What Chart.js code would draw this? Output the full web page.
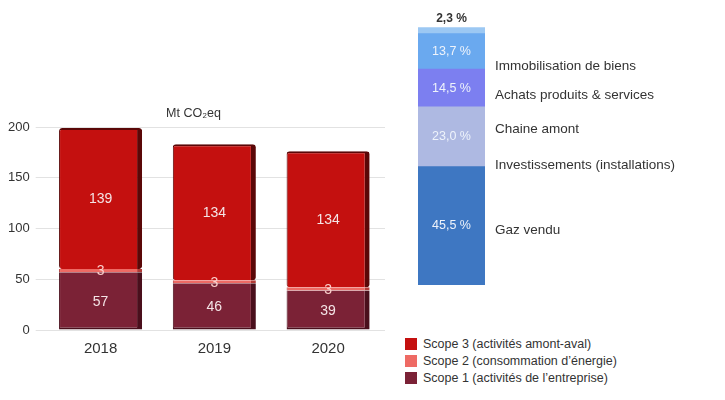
<!DOCTYPE html>
<html lang="fr">
<head>
<meta charset="utf-8">
<script src="https://cdn.jsdelivr.net/npm/chart.js@4"></script>
<style>
  html, body { margin: 0; padding: 0; background: #fff; }
  body { width: 725px; height: 400px; position: relative; overflow: hidden; font-family: "Liberation Sans", Arial, sans-serif; }
  #scope-wrap { position: absolute; left: 0; top: 98px; width: 400px; height: 264px; }
  #split-wrap { position: absolute; left: 400px; top: 0; width: 325px; height: 310px; }
  #legend { position: absolute; left: 405px; top: 335px; font-size: 12.5px; color: #333; }
  #legend div { display: flex; align-items: center; height: 17px; }
  #legend span.box { width: 12px; height: 12px; margin-right: 6px; display: inline-block; }
</style>
</head>
<body>
<div id="scope-wrap"><canvas id="scope-chart"></canvas></div>
<div id="split-wrap"><canvas id="split-chart"></canvas></div>
<div id="legend"></div>
<script>
// Emissions par scope (Mt CO2eq)
const years = ['2018', '2019', '2020'];
const scope1 = [57, 46, 39];
const scope2 = [3, 3, 3];
const scope3 = [139, 134, 134];
const yTicks = [0, 50, 100, 150, 200];

// Répartition du scope 3 (%), du bas vers le haut
const splitNames = ['Gaz vendu', 'Investissements (installations)', 'Chaine amont', 'Achats produits & services', 'Immobilisation de biens'];
const splitValues = [45.5, 23.0, 14.5, 13.7, 2.3];

const scopeColors = { s3: '#c4100f', s2: '#ee6a64', s1: '#7b2236' };
const splitColors = ['#3e77c2', '#aeb9e2', '#7c7ff0', '#6aa9ef', '#9cc8f3'];

const fontFamily = '"Liberation Sans", Arial, sans-serif';

/**
 * Écrit la valeur au centre de chaque segment de barre.
 */
const barValuesPlugin = {
    id: 'barValues',
    afterDatasetsDraw(chart) {
        const ctx = chart.ctx;
        ctx.save();
        ctx.textAlign = 'center';
        ctx.textBaseline = 'middle';
        ctx.font = '14px ' + fontFamily;
        chart.data.datasets.forEach((ds, i) => {
            const meta = chart.getDatasetMeta(i);
            meta.data.forEach((bar, j) => {
                const y = (bar.y + bar.base) / 2;
                ctx.fillStyle = ds.label.startsWith('Scope 2') ? '#fbd0cc' : '#f4e4e6';
                ctx.fillText(String(ds.data[j]), bar.x, y + 1);
            });
        });
        ctx.restore();
    }
};

function fmtPct(v) {
    return v.toFixed(1).replace('.', ',') + ' %';
}

/**
 * Pourcentages dans la colonne et noms des postes à droite.
 */
const splitLabelsPlugin = {
    id: 'splitLabels',
    afterDatasetsDraw(chart, args, opts) {
        const ctx = chart.ctx;
        const yScale = chart.scales.y;
        ctx.save();
        ctx.textBaseline = 'middle';
        chart.data.datasets.forEach((ds, i) => {
            const bar = chart.getDatasetMeta(i).data[0];
            const h = Math.abs(bar.base - bar.y);
            ctx.font = '12.5px ' + fontFamily;
            ctx.textAlign = 'center';
            if (h < 14) {
                ctx.fillStyle = '#333';
                ctx.font = 'bold 12px ' + fontFamily;
                ctx.fillText(fmtPct(ds.data[0]), bar.x, bar.y - 9);
            } else {
                ctx.fillStyle = '#eef3fb';
                ctx.fillText(fmtPct(ds.data[0]), bar.x, (bar.y + bar.base) / 2);
            }
            ctx.font = '13.5px ' + fontFamily;
            ctx.textAlign = 'left';
            ctx.fillStyle = '#333';
            const ny = yScale.getPixelForValue(opts.nameAt[i]);
            ctx.fillText(ds.label, bar.x + bar.width / 2 + 10, ny);
        });
        ctx.restore();
    }
};

function renderScopeChart() {
    const ctx = document.getElementById('scope-chart').getContext('2d');
    new Chart(ctx, {
        type: 'bar',
        data: {
            labels: years,
            datasets: [
                { label: 'Scope 1 (activités de l’entreprise)', data: scope1, backgroundColor: scopeColors.s1,
                  borderColor: '#4a0f1c', borderWidth: { left: 1, right: 5, bottom: 2 }, borderSkipped: false },
                { label: 'Scope 2 (consommation d’énergie)', data: scope2, backgroundColor: scopeColors.s2,
                  borderColor: '#b23a36', borderWidth: { left: 1, right: 5 }, borderSkipped: false },
                { label: 'Scope 3 (activités amont-aval)', data: scope3, backgroundColor: scopeColors.s3,
                  borderColor: '#5a0707', borderWidth: { left: 1, right: 5, top: 2 }, borderSkipped: false, borderRadius: 3 }
            ]
        },
        options: {
            responsive: true,
            maintainAspectRatio: false,
            animation: false,
            layout: { padding: { left: 2, right: 15, top: 0, bottom: 2 } },
            datasets: { bar: { categoryPercentage: 0.73, barPercentage: 1 } },
            plugins: {
                legend: { display: false },
                tooltip: { enabled: false },
                title: {
                    display: true,
                    text: 'Mt CO₂eq',
                    color: '#333',
                    font: { family: fontFamily, size: 12.5, weight: 'normal' },
                    padding: { top: 8, bottom: 6 }
                }
            },
            scales: {
                x: {
                    stacked: true,
                    grid: { display: false },
                    border: { display: false },
                    ticks: { color: '#333', font: { family: fontFamily, size: 15 }, padding: 2 }
                },
                y: {
                    stacked: true,
                    min: 0,
                    max: 200,
                    afterBuildTicks: axis => { axis.ticks = yTicks.map(v => ({ value: v })); },
                    grid: { color: '#e2e2e2' },
                    border: { display: false },
                    ticks: { color: '#333', font: { family: fontFamily, size: 13 }, padding: 6 }
                }
            }
        },
        plugins: [barValuesPlugin]
    });
}

function renderSplitChart() {
    const ctx = document.getElementById('split-chart').getContext('2d');
    new Chart(ctx, {
        type: 'bar',
        data: {
            labels: ['Scope 3'],
            datasets: splitNames.map((name, i) => ({
                label: name,
                data: [splitValues[i]],
                backgroundColor: splitColors[i],
                borderWidth: 0
            }))
        },
        options: {
            responsive: true,
            maintainAspectRatio: false,
            animation: false,
            layout: { padding: { left: 18, right: 240, top: 25, bottom: 25 } },
            datasets: { bar: { categoryPercentage: 1, barPercentage: 1 } },
            plugins: {
                legend: { display: false },
                tooltip: { enabled: false },
                splitLabels: { nameAt: [21, 46, 60, 73, 84] }
            },
            scales: {
                x: { stacked: true, display: false },
                y: { stacked: true, display: false, min: 0, max: 100 }
            }
        },
        plugins: [splitLabelsPlugin]
    });
}

function renderLegend() {
    const legend = document.getElementById('legend');
    const items = [
        ['Scope 3 (activités amont-aval)', scopeColors.s3],
        ['Scope 2 (consommation d’énergie)', scopeColors.s2],
        ['Scope 1 (activités de l’entreprise)', scopeColors.s1]
    ];
    items.forEach(([text, color]) => {
        const row = document.createElement('div');
        const box = document.createElement('span');
        box.className = 'box';
        box.style.background = color;
        row.appendChild(box);
        row.appendChild(document.createTextNode(text));
        legend.appendChild(row);
    });
}

renderScopeChart();
renderSplitChart();
renderLegend();
</script>
</body>
</html>
